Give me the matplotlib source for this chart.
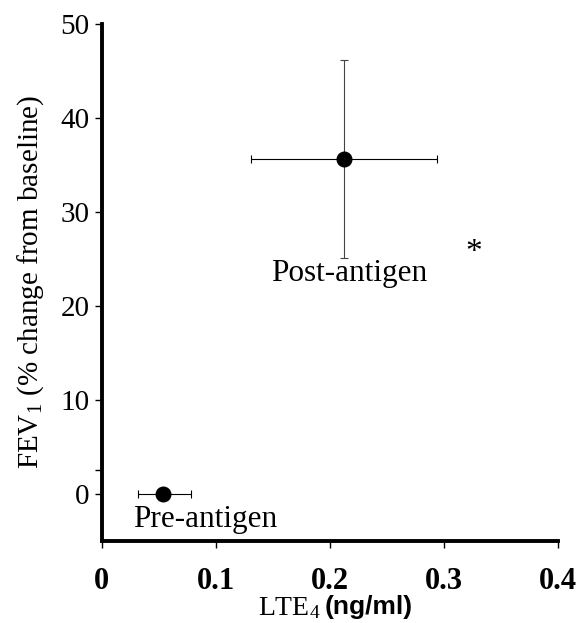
import matplotlib
matplotlib.use("Agg")
import matplotlib.pyplot as plt

# Data
labels = ["Pre-antigen", "Post-antigen"]
lte4 = [0.054, 0.212]
lte4_err_lo = [0.022, 0.081]
lte4_err_hi = [0.024, 0.082]
fev1 = [0.0, 35.6]
fev1_err_lo = [0.0, 10.5]
fev1_err_hi = [0.0, 10.5]
x_ticks = [0, 0.1, 0.2, 0.3, 0.4]
x_ticklabels = ["0", "0.1", "0.2", "0.3", "0.4"]
y_ticks = [0, 10, 20, 30, 40, 50]

plt.rcParams['font.family'] = ['Liberation Serif', 'DejaVu Serif']
plt.rcParams['mathtext.fontset'] = 'custom'
plt.rcParams['mathtext.rm'] = 'Liberation Serif'
plt.rcParams['mathtext.it'] = 'Liberation Serif:italic'

fig = plt.figure(figsize=(5.79, 6.23), dpi=100)
ax = fig.add_axes([0.176, 0.132, 0.788, 0.830])

ax.errorbar(lte4, fev1, yerr=[fev1_err_lo, fev1_err_hi],
            fmt='none', ecolor='#444444', elinewidth=0.8, capsize=3, capthick=0.8,
            zorder=1)
ax.errorbar(lte4, fev1,
            xerr=[lte4_err_lo, lte4_err_hi],
            fmt='none', ecolor='black', elinewidth=0.8, capsize=3, capthick=0.8)
ax.plot(lte4, fev1, 'o', color='black', markersize=10.5)

ax.text(0.217, 23.4, "Post-antigen", ha='center', va='center', fontsize=22.5)
ax.text(0.091, -2.7, "Pre-antigen", ha='center', va='center', fontsize=22.5)
ax.text(0.326, 25.6, "*", ha='center', va='center', fontsize=24)

ax.set_xlim(0, 0.4)
ax.set_ylim(-5, 50)
ax.set_xticks(x_ticks)
ax.set_xticklabels(x_ticklabels, fontweight='bold', fontsize=22)
ax.set_yticks(y_ticks)
ax.set_yticks([2.5], minor=True)
ax.tick_params(axis='y', labelsize=21, direction='out', width=1, length=5, pad=4)
ax.tick_params(axis='y', which='minor', length=5, width=1)
ax.tick_params(axis='x', direction='out', width=1, length=5, pad=14)

for s in ['top', 'right']:
    ax.spines[s].set_visible(False)
for s in ['left', 'bottom']:
    ax.spines[s].set_linewidth(2.8)

ax.set_ylabel(r"FEV$_1$ (% change from baseline)", fontsize=21, labelpad=10)

# x-axis label: serif "LTE4" followed by bold sans "(ng/ml)"
fig.text(321 / 579, 1 - 608 / 623, r"LTE$_4$", ha='right', va='center', fontsize=20)
fig.text(325 / 579, 1 - 607 / 623, "(ng/ml)", ha='left', va='center', fontsize=19,
         family=['Liberation Sans', 'DejaVu Sans'], fontweight='bold')

fig.savefig("out.png", dpi=100)
